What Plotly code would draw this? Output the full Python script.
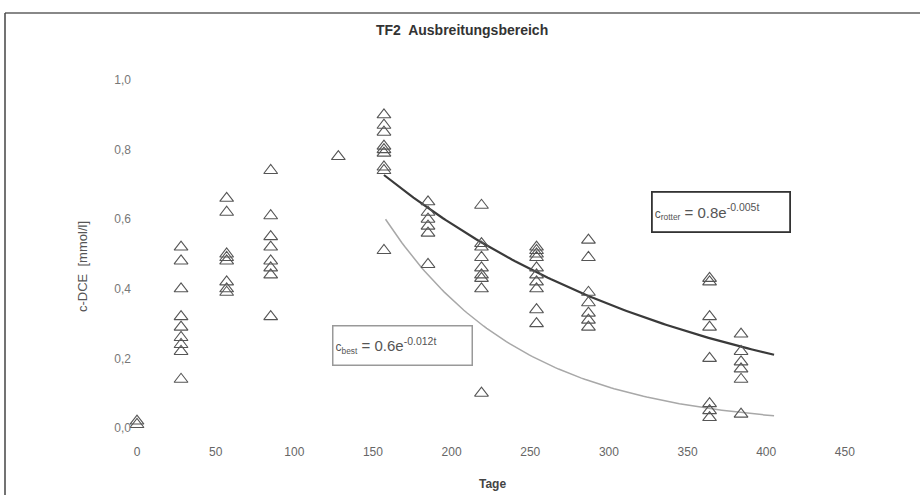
import numpy as np
import plotly.graph_objects as go

# ---- data ----
days = [0, 28, 57, 85, 128, 157, 185, 219, 254, 287, 364, 384]
values = [
    [0.01, 0.02],
    [0.52, 0.48, 0.40, 0.32, 0.29, 0.26, 0.24, 0.22, 0.14],
    [0.66, 0.62, 0.50, 0.49, 0.48, 0.42, 0.40, 0.39],
    [0.74, 0.61, 0.55, 0.52, 0.48, 0.46, 0.44, 0.32],
    [0.78],
    [0.90, 0.87, 0.85, 0.81, 0.80, 0.79, 0.75, 0.74, 0.51],
    [0.65, 0.62, 0.60, 0.58, 0.56, 0.47],
    [0.64, 0.53, 0.52, 0.49, 0.46, 0.44, 0.43, 0.40, 0.10],
    [0.52, 0.51, 0.50, 0.49, 0.46, 0.44, 0.42, 0.40, 0.34, 0.30],
    [0.54, 0.49, 0.39, 0.36, 0.33, 0.31, 0.29],
    [0.43, 0.42, 0.32, 0.29, 0.20, 0.07, 0.05, 0.03],
    [0.27, 0.22, 0.19, 0.17, 0.14, 0.04],
]

# exponential trend lines (as drawn): c = a * exp(-k * (t - t0)), t0 <= t <= t1
rotter_fit = dict(a=0.727, k=0.0050, t0=157, t1=405)
best_fit = dict(a=0.60, k=0.0115, t0=158, t1=405)

x_ticks = [0, 50, 100, 150, 200, 250, 300, 350, 400, 450]
y_ticks = [0.0, 0.2, 0.4, 0.6, 0.8, 1.0]
y_tick_labels = ["0,0", "0,2", "0,4", "0,6", "0,8", "1,0"]

title_text = "<b>TF2  Ausbreitungsbereich</b>"
x_title = "<b>Tage</b>"
y_title = "c-DCE  [mmol/l]"
best_label = "<span style='font-size:12px'>c<sub>best</sub></span> = 0.6e<sup>-0.012t</sup>"
rotter_label = "<span style='font-size:12px'>c<sub>rotter</sub></span> = 0.8e<sup>-0.005t</sup>"

# ---- build ----
xs, ys = [], []
for d, vals in zip(days, values):
    for v in vals:
        xs.append(d)
        ys.append(v)

def curve(p):
    t = np.linspace(p["t0"], p["t1"], 120)
    return t, p["a"] * np.exp(-p["k"] * (t - p["t0"]))

FONT = "Liberation Sans, Arial, sans-serif"

fig = go.Figure()
tb, cb = curve(best_fit)
fig.add_trace(go.Scatter(x=tb, y=cb, mode="lines",
                         line=dict(color="#a8a8a8", width=1.5), hoverinfo="skip"))
tr, cr = curve(rotter_fit)
fig.add_trace(go.Scatter(x=tr, y=cr, mode="lines",
                         line=dict(color="#3a3a3a", width=2.2), hoverinfo="skip"))
fig.add_trace(go.Scatter(x=xs, y=ys, mode="markers",
                         marker=dict(symbol="triangle-up-open", size=12,
                                     color="#555555", line=dict(width=1.1, color="#555555")),
                         cliponaxis=False))

L, R, T, B = 132, 865, 70, 443
W, H = 920, 495
pw, ph = R - L, B - T

def px(x):
    return (x - L) / pw

def py(y):
    return (B - y) / ph

fig.update_layout(
    width=W, height=H,
    margin=dict(l=L, r=W - R, t=T, b=H - B),
    paper_bgcolor="white", plot_bgcolor="white",
    showlegend=False,
    font=dict(family=FONT, color="#555555", size=12),
    xaxis=dict(range=[(L - 137) / 1.573, (R - 137) / 1.573], tickvals=x_ticks,
               showgrid=False, zeroline=False, showline=False, ticks="",
               tickfont=dict(size=12, color="#666666")),
    yaxis=dict(range=[(428 - B) / 348, (428 - T) / 348], tickvals=y_ticks,
               ticktext=y_tick_labels,
               showgrid=False, zeroline=False, showline=False, ticks="",
               tickfont=dict(size=12, color="#777777")),
    annotations=[
        dict(text=title_text, xref="paper", yref="paper", x=px(462), y=py(30),
             xanchor="center", yanchor="middle",
             showarrow=False, font=dict(size=14, color="#333333", family=FONT)),
        dict(text=x_title, xref="paper", yref="paper", x=px(492), y=py(484),
             xanchor="center", yanchor="middle",
             showarrow=False, font=dict(size=12, color="#444444", family=FONT)),
        dict(text=y_title, xref="paper", yref="paper", x=px(82), y=py(267),
             xanchor="center", yanchor="middle",
             textangle=-90, showarrow=False, font=dict(size=13, color="#555555", family=FONT)),
        dict(text=best_label, xref="x", yref="y", x=(402 - 137) / 1.573, y=(428 - 345) / 348,
             xanchor="center", yanchor="middle", align="left",
             showarrow=False, width=134, height=34, borderpad=2,
             bordercolor="#999999", borderwidth=1.5, bgcolor="white",
             font=dict(size=15, color="#555555", family=FONT)),
        dict(text=rotter_label, xref="x", yref="y", x=(720.5 - 137) / 1.573, y=(428 - 212) / 348,
             xanchor="center", yanchor="middle", align="left",
             showarrow=False, width=132, height=34, borderpad=2,
             bordercolor="#333333", borderwidth=1.8, bgcolor="white",
             font=dict(size=15, color="#555555", family=FONT)),
    ],
    shapes=[
        dict(type="line", xref="paper", yref="paper", x0=px(5), x1=px(925), y0=py(13), y1=py(13),
             line=dict(color="#888888", width=2)),
        dict(type="line", xref="paper", yref="paper", x0=px(5), x1=px(5), y0=py(13), y1=py(500),
             line=dict(color="#444444", width=1.5)),
    ],
)

fig.write_html("out.html", config={"displayModeBar": False},
               post_script="document.body.style.margin='0';document.body.style.padding='0';")
